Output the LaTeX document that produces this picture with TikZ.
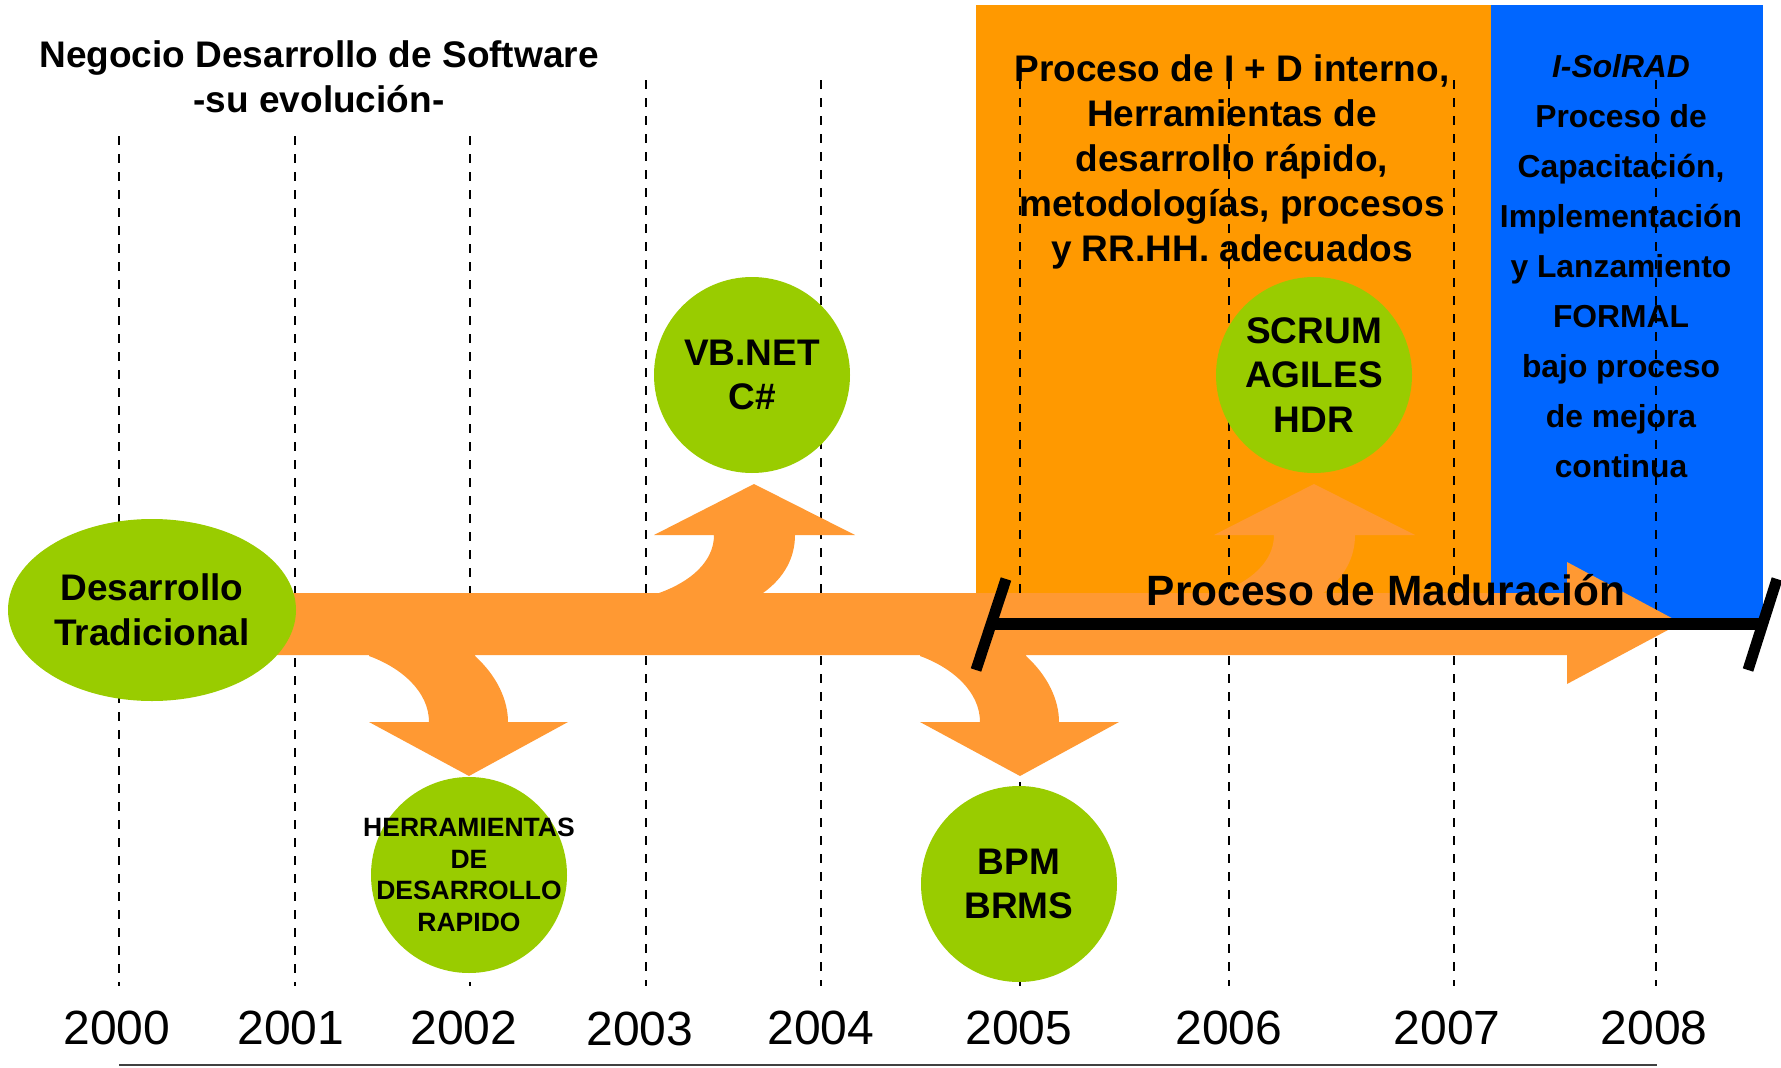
\documentclass[tikz,border=0pt]{standalone}
\usepackage{fontspec}
\setmainfont{Liberation Sans}
\usetikzlibrary{shapes.geometric}
\definecolor{greenc}{HTML}{99CC00}
\definecolor{orangerect}{HTML}{FF9900}
\definecolor{bluerect}{HTML}{0066FF}
\definecolor{arrowc}{HTML}{FF9933}
\definecolor{basegray}{HTML}{404040}
\begin{document}
\begin{tikzpicture}[x=1pt,y=-1pt,
  ball/.style={circle, fill=greenc, draw=none, minimum size=196pt, inner sep=0pt},
  oval/.style={ellipse, fill=greenc, draw=none, minimum width=288pt, minimum height=182pt, inner sep=0pt},
  balltext/.style={align=center, inner sep=0pt, font=\fontsize{37}{44.5}\selectfont\bfseries},
  smallballtext/.style={align=center, inner sep=0pt, font=\fontsize{26.5}{31.7}\selectfont\bfseries},
  titletext/.style={align=center, inner sep=0pt, font=\fontsize{37}{45}\selectfont\bfseries},
  bluetext/.style={align=center, inner sep=0pt, font=\fontsize{31.8}{50}\selectfont\bfseries},
  yeartext/.style={inner sep=0pt, font=\fontsize{48}{50}\selectfont},
  matutext/.style={inner sep=0pt, font=\fontsize{42.4}{46}\selectfont\bfseries},
  yearline/.style={draw=black, line width=2pt, dash pattern=on 9pt off 9pt},
  arrowshape/.style={fill=arrowc, draw=none},
  bracketline/.style={draw=black, line width=12pt},
  brackettick/.style={draw=black, line width=11pt}
]
\useasboundingbox (0,0) rectangle (1781,1068);

% background panels
\fill[orangerect] (976,5) rectangle (1491,620);
\fill[bluerect] (1491,5) rectangle (1763,620);

% panel texts
\node[titletext] (idtext) at (1232,161.5)
  {Proceso de I + D interno,\\Herramientas de\\desarrollo rápido,\\metodologías, procesos\\y RR.HH. adecuados};
\node[bluetext] (soltext) at (1621,266)
  {{\itshape I-SolRAD}\\Proceso de\\Capacitación,\\Implementación\\y Lanzamiento\\FORMAL\\bajo proceso\\de mejora\\continua};

% title
\node[titletext] (title) at (319,77) {Negocio Desarrollo de Software\\-su evolución-};

% dashed year lines
\foreach \xx in {119.3,295.3,470.2}
  \draw[yearline] (\xx,136) -- (\xx,986);
\foreach \xx in {646.3,821.2,1020,1229,1453.8,1656}
  \draw[yearline] (\xx,80) -- (\xx,986);

% main arrow
\fill[arrowshape] (250,593) -- (1567,593) -- (1567,562) -- (1681,623) -- (1567,684) -- (1567,655) -- (250,655) -- cycle;

% branch arrows down
\foreach \sh in {0,551}{
\fill[arrowshape, shift={(\sh,0)}] (369,650) -- (369,656) .. controls (402,668) and (429,692) .. (429,722)
  -- (369,722) -- (469,776) -- (568,722) -- (508,722)
  .. controls (508,700) and (497,676) .. (475,656) -- (475,650) -- cycle;
}
% branch arrows up
\foreach \sh in {0,560}{
\fill[arrowshape, shift={(\sh,0)}] (659,599) -- (659,593) .. controls (690,582) and (714,562) .. (714,535)
  -- (654,535) -- (754,484) -- (855,535) -- (795,535)
  .. controls (795,558) and (784,578) .. (763,593) -- (763,599) -- cycle;
}

% green balls
\node[oval] (trad) at (152,610) {};
\node[balltext] (tradtext) at (trad.center) {Desarrollo\\Tradicional};
\node[ball] (vb) at (752,375) {};
\node[balltext] (vbtext) at (vb.center) {VB.NET\\C\#};
\node[ball] (scrum) at (1314,375) {};
\node[balltext] (scrumtext) at (scrum.center) {SCRUM\\AGILES\\HDR};
\node[ball] (herr) at (469,875) {};
\node[smallballtext] (herrtext) at (herr.center) {HERRAMIENTAS\\DE\\DESARROLLO\\RAPIDO};
\node[ball] (bpm) at (1019,884) {};
\node[balltext] (bpmtext) at (bpm.center) {BPM\\BRMS};

% maturation bracket
\coordinate (brl) at (991,624);
\coordinate (brr) at (1762,624);
\draw[bracketline] (brl) -- (brr);
\draw[brackettick] (1006,579) -- (976,670);
\draw[brackettick] (1777,579) -- (1748,670);
\node[matutext] (matu) at (1386,590) {Proceso de Maduración};

% years
\node[yeartext] (y2000) at (117,1028) {2000};
\node[yeartext] (y2001) at (291,1028) {2001};
\node[yeartext] (y2002) at (464,1028) {2002};
\node[yeartext] (y2003) at (640,1029) {2003};
\node[yeartext] (y2004) at (821,1028) {2004};
\node[yeartext] (y2005) at (1019,1028) {2005};
\node[yeartext] (y2006) at (1229,1028) {2006};
\node[yeartext] (y2007) at (1447,1028) {2007};
\node[yeartext] (y2008) at (1654,1028) {2008};

% base line
\draw[basegray, line width=2.5pt] (119,1065) -- (1657,1065);
\end{tikzpicture}
\end{document}
